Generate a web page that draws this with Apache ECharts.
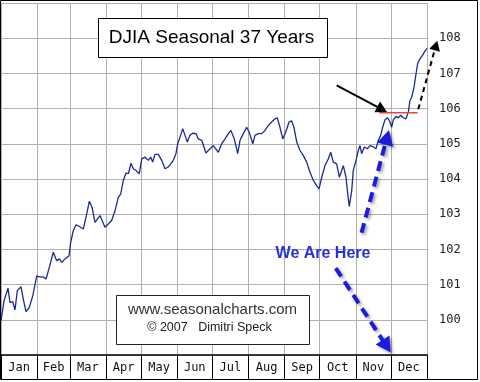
<!DOCTYPE html>
<html><head><meta charset="utf-8">
<script src="https://cdn.jsdelivr.net/npm/echarts@6/dist/echarts.min.js"></script>
<style>html,body{margin:0;padding:0;background:#fff}#c{width:480px;height:382px}</style>
</head><body><div id="c"></div>
<script>
// ---- categories / ticks ----
const months = ['Jan','Feb','Mar','Apr','May','Jun','Jul','Aug','Sep','Oct','Nov','Dec'];
const monthStarts = [0,31,59,90,120,151,181,212,243,273,304,334,365];
const yTickLabels = [100,101,102,103,104,105,106,107,108];

// ---- series: day of year / seasonal index ----
const days = [0,2.6,6.0,7.7,10.0,12.0,14.0,17.1,19.1,21.4,24.2,27.2,30.6,32.8,36.2,38.6,41.4,44.8,47.7,50.0,
  52.0,54.8,58.3,59.7,61.9,64.3,67.1,70.5,72.8,75.7,78.0,80.5,84.8,89.1,91.9,94.8,97.7,100.5,102.6,104.8,
  107.1,109.1,111.4,113.4,115.7,118.5,120.6,123.4,126.2,128.3,130.0,131.9,134.8,137.7,140.5,143.3,145.4,147.6,149.9,151.4,
  153.4,155.7,157.7,159.6,161.9,164.2,167.1,169.0,172.0,175.6,179.1,181.9,186.2,189.1,191.9,194.8,197.0,199.9,202.8,204.8,
  207.6,210.5,212.7,215.7,217.6,220.5,223.4,226.2,229.0,231.9,234.8,236.7,239.0,241.4,243.9,246.8,249.1,251.0,253.4,256.2,
  259.0,261.9,264.8,267.6,270.5,272.5,274.8,277.6,280.4,282.5,284.7,287.6,289.9,291.9,293.3,295.6,297.1,298.4,300.5,301.8,
  304.2,306.1,307.6,309.0,311.3,313.8,316.2,319.0,321.3,323.3,325.3,327.0,329.0,331.3,333.3,334.7,336.1,338.4,340.4,342.5,
  344.7,347.0,349.0,350.4,351.9,353.9,355.6,357.0,359.0,361.3,363.3,365];
const values = [99.97,100.54,100.90,100.49,100.52,100.28,100.83,100.94,100.59,100.23,100.35,100.68,101.25,101.22,101.22,101.16,101.49,101.92,101.68,101.73,
  101.63,101.73,101.82,102.20,102.53,102.70,102.65,102.58,102.91,103.37,103.20,102.77,102.96,102.63,102.72,102.82,103.10,103.48,103.58,103.96,
  104.17,104.15,104.45,104.29,104.24,104.15,104.57,104.62,104.53,104.62,104.48,104.70,104.70,104.53,104.29,104.34,104.43,104.53,104.72,105.00,
  105.19,105.43,105.24,105.05,105.24,105.30,105.29,105.14,105.10,104.74,104.86,104.95,104.76,105.00,105.14,105.29,105.38,105.14,104.72,105.10,
  105.29,105.47,105.33,105.00,105.24,105.29,105.29,105.38,105.52,105.62,105.71,105.74,105.47,105.14,105.33,105.62,105.65,105.47,105.05,104.81,
  104.67,104.48,104.19,103.96,103.81,103.72,104.05,104.38,104.57,104.76,104.48,104.43,104.05,104.24,104.38,104.05,103.57,103.22,103.67,104.24,
  104.53,104.81,104.95,104.72,104.91,104.86,104.95,104.91,104.86,105.10,105.24,105.47,105.68,105.74,105.62,105.47,105.68,105.78,105.74,105.81,
  105.74,105.71,105.90,106.23,106.33,106.61,106.99,107.28,107.42,107.52,107.64,107.71];

// ---- annotations (data coordinates) ----
const resistanceLine = [[324.1,105.88],[357.0,105.88]];
const blackArrow = [[287.6,106.66],[330.7,105.90]];
const blackDashArrow = [[357.5,105.98],[373.8,107.93]];
const blueArrowUp = [[308.9,102.47],[332.4,105.39]];
const blueArrowDown = [[286.8,101.47],[333.9,99.07]];
const hereLabelPos = [275.9,101.87];
const hereLabel = 'We Are Here';
const titleText = 'DJIA Seasonal 37 Years';
const creditLine1 = 'www.seasonalcharts.com';
const creditLine2 = '\u00A9 2007   Dimitri Speck';

const monthMids = months.map((m,i)=> (monthStarts[i]+monthStarts[i+1])/2);

const chart = echarts.init(document.getElementById('c'), null, {renderer:'canvas'});
const mono = '"DejaVu Sans Mono", monospace';
chart.setOption({
  animation:false,
  backgroundColor:'#fff',
  grid:{left:1, top:3, width:426, height:352, containLabel:false},
  xAxis:{type:'value', min:0, max:365,
    axisLine:{show:true, onZero:false, lineStyle:{color:'#000', width:1.5}},
    axisTick:{show:true, customValues:monthStarts, length:24, inside:false, lineStyle:{color:'#000', width:1}},
    splitLine:{show:true, lineStyle:{color:'#b0b0b0', width:1}},
    axisLabel:{customValues:monthMids, formatter:(v)=>{const i=monthMids.indexOf(v);return i>=0?months[i]:'';},
      fontFamily:mono, fontSize:12, color:'#111', margin:7}
  },
  yAxis:{type:'value', position:'right', min:99, max:109, interval:1,
    axisLine:{show:false}, axisTick:{show:false},
    splitLine:{show:true, lineStyle:{color:'#b0b0b0', width:1}},
    axisLabel:{margin:12, fontFamily:mono, fontSize:12, color:'#222',
      formatter:(v)=> yTickLabels.indexOf(v)>=0 ? String(v) : ''}
  },
  series:[{type:'line', data:days.map((d,i)=>[d,values[i]]), showSymbol:false, symbol:'none',
    lineStyle:{color:'#1b2a94', width:1.3}, silent:true}]
});

function px(p){ return chart.convertToPixel({gridIndex:0}, p); }
function arrow(seg, color, width, dash, head, shadow){
  const a = px(seg[0]), b = px(seg[1]);
  const ang = Math.atan2(b[1]-a[1], b[0]-a[0]);
  const hl = head, hw = head*0.55;
  const base = [b[0]-hl*Math.cos(ang), b[1]-hl*Math.sin(ang)];
  const l = [base[0]+hw*Math.sin(ang), base[1]-hw*Math.cos(ang)];
  const r = [base[0]-hw*Math.sin(ang), base[1]+hw*Math.cos(ang)];
  const sh = shadow ? {shadowColor:'rgba(0,0,0,0.35)', shadowBlur:3, shadowOffsetX:2, shadowOffsetY:2} : {};
  return [
    {type:'line', z:10, silent:true, shape:{x1:a[0],y1:a[1],x2:base[0]+(hl*0.2)*Math.cos(ang),y2:base[1]+(hl*0.2)*Math.sin(ang)},
      style:Object.assign({stroke:color, lineWidth:width, lineDash:dash||null}, sh)},
    {type:'polygon', z:11, silent:true, shape:{points:[b,l,r]}, style:Object.assign({fill:color}, sh)}
  ];
}
const r0 = px(resistanceLine[0]), r1 = px(resistanceLine[1]);
const hp = px(hereLabelPos);
const g = [
  {type:'rect', z:20, silent:true, shape:{x:0.5,y:0.5,width:477,height:379}, style:{fill:null, stroke:'#000', lineWidth:1}},
  {type:'rect', z:5, silent:true, shape:{x:98.5,y:18.5,width:229,height:39}, style:{fill:'#fff', stroke:'#000', lineWidth:1}},
  {type:'text', z:6, silent:true, x:211.5, y:38, style:{text:titleText, font:'19px "Liberation Sans", Arial, sans-serif', fill:'#000', align:'center', verticalAlign:'middle'}},
  {type:'rect', z:5, silent:true, shape:{x:116.5,y:295.5,width:193,height:49}, style:{fill:'#fff', stroke:'#222', lineWidth:1}},
  {type:'text', z:6, silent:true, x:212.5, y:310, style:{text:creditLine1, font:'15px "Liberation Sans", Arial, sans-serif', fill:'#333', align:'center', verticalAlign:'middle'}},
  {type:'text', z:6, silent:true, x:209.5, y:328, style:{text:creditLine2, font:'12.5px "Liberation Sans", Arial, sans-serif', fill:'#222', align:'center', verticalAlign:'middle'}},
  {type:'line', z:9, silent:true, shape:{x1:r0[0],y1:r0[1],x2:r1[0],y2:r1[1]}, style:{stroke:'#e8443a', lineWidth:1.5}},
  ...arrow(blackArrow, '#000', 2, null, 11, false),
  ...arrow(blackDashArrow, '#000', 2, [5,4], 10, false),
  ...arrow(blueArrowUp, '#1c1ce0', 4, [10,6], 15, true),
  ...arrow(blueArrowDown, '#1c1ce0', 4, [10,6], 15, true),
  {type:'text', z:12, silent:true, x:hp[0], y:hp[1], style:{text:hereLabel, font:'bold 16px "Liberation Sans", Arial, sans-serif', fill:'#2630dc', align:'center', verticalAlign:'middle', shadowColor:'rgba(0,0,0,0.35)', shadowBlur:2, shadowOffsetX:2, shadowOffsetY:2}}
];
chart.setOption({graphic:g});
</script></body></html>
